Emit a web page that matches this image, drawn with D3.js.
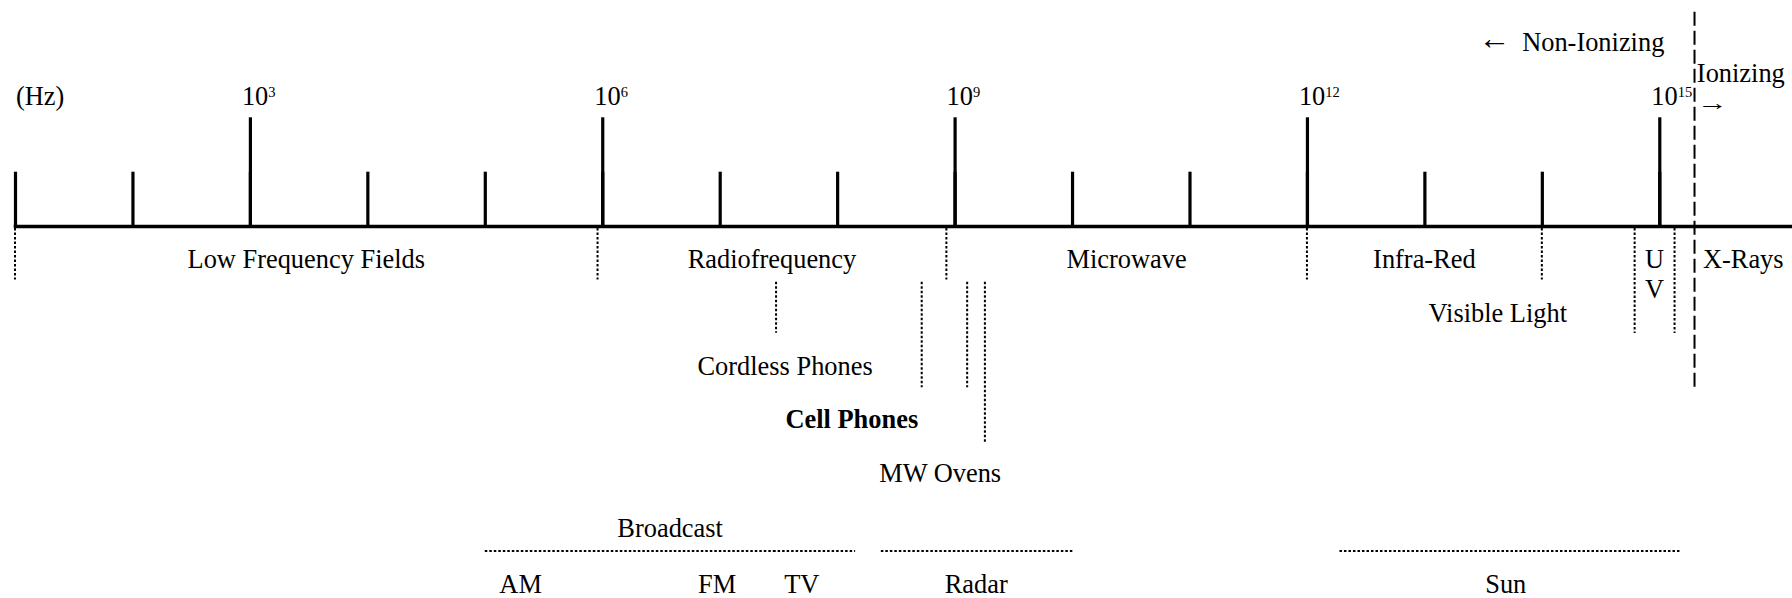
<!DOCTYPE html>
<html><head><meta charset="utf-8">
<script src="https://cdn.jsdelivr.net/npm/d3@7"></script>
<style>
html,body{margin:0;padding:0;background:#fff;}
svg{display:block;}
</style></head><body>
<svg id="chart" width="1792" height="598" font-family="'Liberation Serif', 'DejaVu Serif', 'Times New Roman', Times, serif" font-size="26.4"></svg>
<script>
// ---- data (all positions along the axis are log10 of frequency in Hz) ----
const tickExponents = [1,2,3,4,5,6,7,8,9,10,11,12,13,14,15];
const majorExponents = [3,6,9,12,15];
const majorLabels = ["3","6","9","12","15"];
const unitLabel = "(Hz)";

const bandNames = ["Low Frequency Fields","Radiofrequency","Microwave","Infra-Red","UV","X-Rays"];
const bandStart = [1.0, 5.96, 8.93, 12.0, 14.79, 15.30];
const bandEnd   = [5.96, 8.93, 12.0, 14.0, 15.13, 16.13];
const shortBoundaries = [1.0, 5.96, 8.93, 12.0, 14.0];
const longBoundaries = [14.79, 15.13];
const ionizingBoundary = 15.30;
const visibleLightLabel = "Visible Light";
const visibleLightPos = 13.625;

const sourceNames = ["Cordless Phones","Cell Phones","MW Ovens"];
const sourceBold = [false, true, false];
const sourceLabelPos = [7.557, 8.125, 8.877];
const sourceLinePos = [[7.48],[8.72, 9.107],[9.258]];

const rangeNames = ["Broadcast","Radar","Sun"];
const rangeSegments = [[[5.0,7.48],[7.455,8.153]], [[8.372,10.01]], [[12.277,15.175]]];
const rangeLabelPos = [6.578, 9.184, 13.693];
const rangeHasSubs = [true, false, false];
const subNames = ["AM","FM","TV"];
const subPos = [5.305, 6.978, 7.699];

const nonIonizingLabel = "Non-Ionizing";
const nonIonizingEnd = 15.043;
const ionizingLabel = "Ionizing";
const ionizingStart = 15.32;

// ---- layout ----
const FONT = "'Liberation Serif', 'DejaVu Serif', 'Times New Roman', Times, serif";
const FS = 26.4;
const axisY = 226;
const svg = d3.select("#chart");
const x = d3.scaleLog().domain([1e1, Math.pow(10, 16.13)]).range([15, 1792]);
const X = e => x(Math.pow(10, e));
const dotted = "2.5,2";
const T = sel => sel.attr("font-family", FONT).attr("font-size", FS).attr("fill", "#000");

// minor (all decades) ticks + axis line
const gAxis = svg.append("g").attr("transform", `translate(0,${axisY})`);
gAxis.call(d3.axisTop(x).tickValues(tickExponents.map(e => Math.pow(10, e)))
  .tickSize(54.3).tickSizeOuter(0).tickFormat(""));
gAxis.select(".domain").attr("stroke", "#000").attr("stroke-width", 3.6).attr("stroke-linecap", "square");
gAxis.selectAll(".tick line").attr("stroke", "#000").attr("stroke-width", 3.2);

// major ticks
const gMajor = svg.append("g").attr("transform", `translate(0,${axisY})`);
gMajor.call(d3.axisTop(x).tickValues(majorExponents.map(e => Math.pow(10, e)))
  .tickSize(108.7).tickSizeOuter(0).tickFormat(""));
gMajor.select(".domain").remove();
gMajor.selectAll(".tick line").attr("stroke", "#000").attr("stroke-width", 3.2);

// major tick labels 10^n
const lbl = svg.append("g").selectAll("text").data(majorExponents).join("text")
  .call(T).attr("x", d => X(d) - 8).attr("y", 105);
lbl.append("tspan").text("10");
lbl.append("tspan").attr("dy", -8.5).attr("font-size", 14.5).text((d, i) => majorLabels[i]);

svg.append("text").call(T).attr("x", X(1) + 1).attr("y", 105).text(unitLabel);

// band boundaries
svg.append("g").selectAll("line").data(shortBoundaries).join("line")
  .attr("x1", d => X(d)).attr("x2", d => X(d)).attr("y1", 228).attr("y2", 279.5)
  .attr("stroke", "#000").attr("stroke-width", 2).attr("stroke-dasharray", dotted);
svg.append("g").selectAll("line").data(longBoundaries).join("line")
  .attr("x1", d => X(d)).attr("x2", d => X(d)).attr("y1", 228).attr("y2", 333)
  .attr("stroke", "#000").attr("stroke-width", 2).attr("stroke-dasharray", dotted);

// ionizing boundary
svg.append("line").attr("x1", X(ionizingBoundary)).attr("x2", X(ionizingBoundary))
  .attr("y1", 11.7).attr("y2", 387).attr("stroke", "#000").attr("stroke-width", 2)
  .attr("stroke-dasharray", "14,5");

// band labels
bandNames.forEach((name, i) => {
  const cx = X((bandStart[i] + bandEnd[i]) / 2);
  const narrow = X(bandEnd[i]) - X(bandStart[i]) < 60;
  if (narrow) {
    name.split("").forEach((ch, k) => {
      svg.append("text").call(T).attr("x", cx).attr("y", 268 + k * 30.3).attr("text-anchor", "middle").text(ch);
    });
  } else {
    svg.append("text").call(T).attr("x", cx).attr("y", 268).attr("text-anchor", "middle").text(name);
  }
});
svg.append("text").call(T).attr("x", X(visibleLightPos)).attr("y", 321.7).attr("text-anchor", "middle").text(visibleLightLabel);

// sources
sourceNames.forEach((name, i) => {
  svg.append("g").selectAll("line").data(sourceLinePos[i]).join("line")
    .attr("x1", d => X(d)).attr("x2", d => X(d)).attr("y1", 281.7).attr("y2", 332.7 + 54.5 * i)
    .attr("stroke", "#000").attr("stroke-width", 2).attr("stroke-dasharray", dotted);
  svg.append("text").call(T).attr("x", X(sourceLabelPos[i])).attr("y", 375 + 53.3 * i)
    .attr("text-anchor", "middle").attr("font-weight", sourceBold[i] ? "bold" : "normal").text(name);
});

// ranges
rangeNames.forEach((name, i) => {
  svg.append("g").selectAll("line").data(rangeSegments[i]).join("line")
    .attr("x1", d => X(d[0])).attr("x2", d => X(d[1])).attr("y1", 551).attr("y2", 551)
    .attr("stroke", "#000").attr("stroke-width", 2).attr("stroke-dasharray", dotted);
  svg.append("text").call(T).attr("x", X(rangeLabelPos[i])).attr("y", rangeHasSubs[i] ? 536.7 : 592.7)
    .attr("text-anchor", "middle").text(name);
});
svg.append("g").selectAll("text").data(subNames).join("text").call(T)
  .attr("x", (d, i) => X(subPos[i])).attr("y", 592.7).attr("text-anchor", "middle").text(d => d);

// ionizing annotations
const ni = svg.append("text").call(T).attr("x", X(nonIonizingEnd)).attr("y", 50.5).attr("text-anchor", "end");
ni.append("tspan").attr("font-size", 32).attr("dy", -2).text("\u2190");
ni.append("tspan").attr("dx", 12).attr("dy", 2).text(nonIonizingLabel);
svg.append("text").call(T).attr("y", 81.5).attr("x", X(ionizingStart)).text(ionizingLabel);
svg.append("text").call(T).attr("font-size", 22)
  .attr("transform", `translate(${X(ionizingStart) + 0.5},110) scale(1.4,1)`).text("\u2192");
</script>
</body></html>
